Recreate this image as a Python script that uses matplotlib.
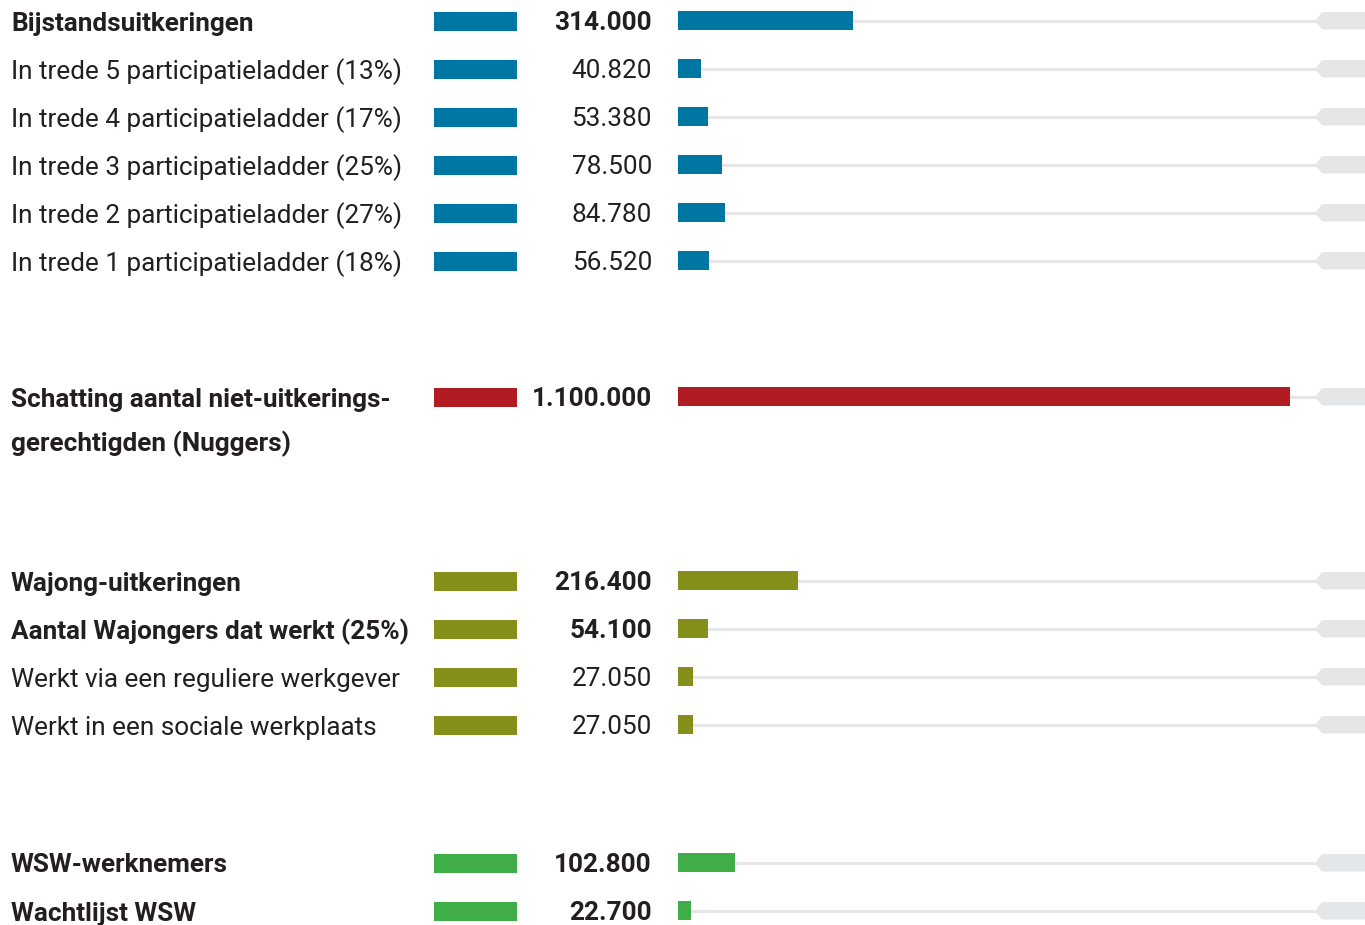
import matplotlib
matplotlib.use("Agg")
import matplotlib.pyplot as plt
from matplotlib.patches import Polygon
from matplotlib.transforms import blended_transform_factory

# rows of the chart, top to bottom
labels = [
    "Bijstandsuitkeringen",
    "In trede 5 participatieladder (13%)",
    "In trede 4 participatieladder (17%)",
    "In trede 3 participatieladder (25%)",
    "In trede 2 participatieladder (27%)",
    "In trede 1 participatieladder (18%)",
    "Schatting aantal niet-uitkerings-\ngerechtigden (Nuggers)",
    "Wajong-uitkeringen",
    "Aantal Wajongers dat werkt (25%)",
    "Werkt via een reguliere werkgever",
    "Werkt in een sociale werkplaats",
    "WSW-werknemers",
    "Wachtlijst WSW",
]
values = [314000, 40820, 53380, 78500, 84780, 56520,
          1100000,
          216400, 54100, 27050, 27050,
          102800, 22700]
groups = ["bijstand"] * 6 + ["nuggers"] + ["wajong"] * 4 + ["wsw"] * 2
bold = [True, False, False, False, False, False,
        True,
        True, True, False, False,
        True, True]

group_colors = {
    "bijstand": "#0077a3",
    "nuggers": "#b01c22",
    "wajong": "#84901a",
    "wsw": "#3fae49",
}

W, H = 1365, 925
# vertical layout (pixel rows)
row_y = [21, 69, 117, 165, 213, 261, 397, 581, 629, 677, 725, 863, 911]
bar_h = 19
txt_col = "#231f20"
font = "Roboto"
fs = 18.8

fig = plt.figure(figsize=(W / 100, H / 100), dpi=100)
fig.patch.set_facecolor("white")

colors = [group_colors[g] for g in groups]

# swatches
sw = fig.add_axes([434 / W, 0, 83 / W, 1])
sw.barh(row_y, [1] * len(row_y), height=bar_h, color=colors, left=0)
sw.set_xlim(0, 1)
sw.set_ylim(H, 0)
sw.axis("off")

# bars
px_per_unit = (1290 - 678) / 1100000
xmax = (W - 678) / px_per_unit
ax = fig.add_axes([678 / W, 0, (W - 678) / W, 1])
ax.set_xlim(0, xmax)
ax.set_ylim(H, 0)
ax.axis("off")

track_end = (1318 - 678) / px_per_unit
ax.hlines(row_y, 0, track_end, color="#e6e6e6", linewidth=2.2, zorder=1)
ax.barh([y - 1 for y in row_y], values, height=bar_h, color=colors, zorder=2)

# grey tags at the right end
trans = blended_transform_factory(fig.transFigure, ax.transData)
for y in row_y:
    pts = [(1315 / W, y), (1322 / W, y - 9), (1.0, y - 9),
           (1.0, y + 8.5), (1322 / W, y + 8.5)]
    ax.add_patch(Polygon(pts, closed=True, transform=trans,
                         facecolor="#e5e6e8", edgecolor="none", clip_on=False))

# labels and values
for lab, v, y, b in zip(labels, values, row_y, bold):
    w = "bold" if b else "normal"
    for i, line in enumerate(lab.split("\n")):
        fig.text(11 / W, 1 - (y + i * 44) / H, line, ha="left",
                 va="center_baseline", fontsize=fs, fontweight=w,
                 family=font, color=txt_col)
    txt = f"{v:,}".replace(",", ".")
    fig.text(652 / W, 1 - y / H, txt, ha="right", va="center_baseline",
             fontsize=fs, fontweight=w, family=font, color=txt_col)

fig.savefig("out.png", dpi=100, facecolor="white")
